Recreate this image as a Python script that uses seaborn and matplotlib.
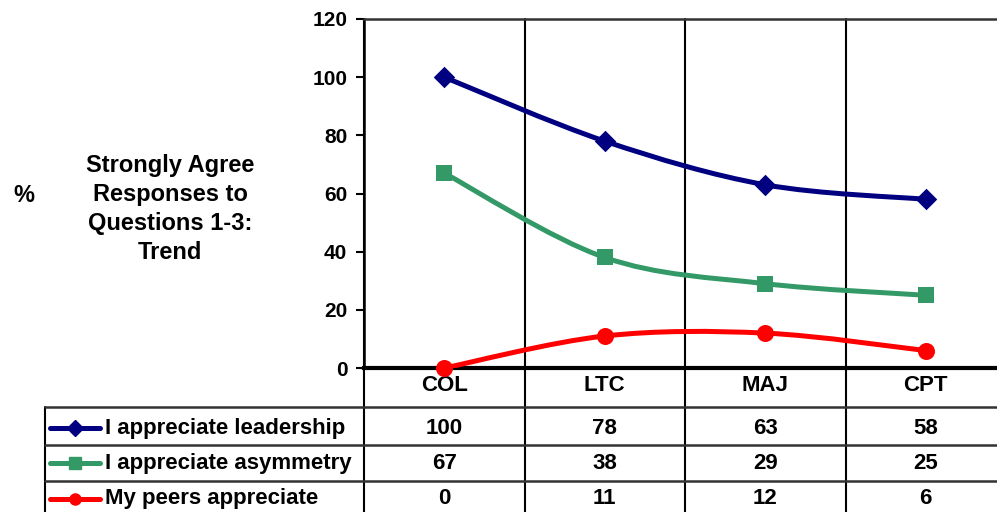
import matplotlib
matplotlib.use("Agg")
import matplotlib.pyplot as plt
import seaborn as sns
import pandas as pd
from matplotlib.path import Path
from matplotlib.patches import PathPatch
from matplotlib.transforms import blended_transform_factory

# data
ranks = ["COL", "LTC", "MAJ", "CPT"]
leadership = [100, 78, 63, 58]
asymmetry = [67, 38, 29, 25]
peers = [0, 11, 12, 6]
series_names = ["I appreciate leadership", "I appreciate asymmetry", "My peers appreciate"]
y_ticks = [0, 20, 40, 60, 80, 100, 120]

sns.set_style("white")
plt.rcParams['font.family'] = ['Liberation Sans', 'DejaVu Sans']
plt.rcParams['font.weight'] = 'bold'
plt.rcParams['text.color'] = 'black'
plt.rcParams['ytick.color'] = 'black'
plt.rcParams['ytick.labelcolor'] = 'black'

colors = ["#000080", "#339966", "#FF0000"]
markers = ["D", "s", "o"]
sizes = [120, 120, 150]
all_series = [leadership, asymmetry, peers]


def smooth_path(xs, ys):
    # Excel style smoothed line (bezier through the points)
    pts = list(zip(xs, ys))
    verts = [pts[0]]
    codes = [Path.MOVETO]
    n = len(pts)
    for i in range(n - 1):
        p0 = pts[i - 1] if i > 0 else pts[i]
        p1 = pts[i]
        p2 = pts[i + 1]
        p3 = pts[i + 2] if i + 2 < n else pts[i + 1]
        c1 = (p1[0] + (p2[0] - p0[0]) / 6, p1[1] + (p2[1] - p0[1]) / 6)
        c2 = (p2[0] - (p3[0] - p1[0]) / 6, p2[1] - (p3[1] - p1[1]) / 6)
        verts += [c1, c2, p2]
        codes += [Path.CURVE4] * 3
    return Path(verts, codes)


fig = plt.figure(figsize=(9.97, 5.12), dpi=100)
ax = fig.add_axes([364 / 997, 1 - 368 / 512, 642 / 997, 349 / 512])

x_pos = list(range(len(ranks)))
for vals, name, c, m, s in zip(all_series, series_names, colors, markers, sizes):
    ax.add_patch(PathPatch(smooth_path(x_pos, vals), fill=False, edgecolor=c,
                           lw=3.6, capstyle='round', joinstyle='round', zorder=3))
    df = pd.DataFrame({"x": x_pos, "y": vals})
    sns.scatterplot(data=df, x="x", y="y", marker=m, s=s, color=c,
                    edgecolor=c, linewidth=0, ax=ax, zorder=4, clip_on=False)

ax.set_xlim(-0.5, 3.5)
ax.set_ylim(0, 120)
ax.set_yticks(y_ticks)
ax.set_yticklabels([str(t) for t in y_ticks], fontsize=15, fontweight='bold', color='black')
ax.set_xticks([])
ax.set_xlabel("")
ax.set_ylabel("")
ax.tick_params(axis='y', direction='out', length=6, width=1.5, color='black', pad=6, left=True)

for side in ["left", "top", "bottom"]:
    ax.spines[side].set_visible(True)
    ax.spines[side].set_color("black")
ax.spines["left"].set_linewidth(1.8)
ax.spines["top"].set_linewidth(1.8)
ax.spines["top"].set_color("#333333")
ax.spines["bottom"].set_linewidth(3)
ax.spines["right"].set_visible(False)

# table below the chart
bt = blended_transform_factory(ax.transData, ax.transAxes)
row_lines = [-0.1117, -0.2206, -0.3238]
row_centres = [-0.172, -0.273, -0.375]
table_bottom = -0.45
table_left = -0.4969

# vertical dividers through plot and table
for b in [-0.5, 0.5, 1.5, 2.5]:
    ax.plot([b, b], [table_bottom, 1], color="black", lw=1.5, transform=bt,
            clip_on=False, zorder=2)
ax.plot([table_left, table_left], [table_bottom, row_lines[0]], color="black",
        lw=1.5, transform=ax.transAxes, clip_on=False)
for yl in row_lines:
    ax.plot([table_left, 1.05], [yl, yl], color="#333333", lw=1.8,
            transform=ax.transAxes, clip_on=False)

for i, r in enumerate(ranks):
    ax.text(i, -0.049, r, transform=bt, ha='center', va='center',
            fontsize=16, fontweight='bold', color='black')

for vals, name, c, m, yc in zip(all_series, series_names, colors, markers, row_centres):
    for i, v in enumerate(vals):
        ax.text(i, yc, str(v), transform=bt, ha='center', va='center',
                fontsize=16, fontweight='bold', color='black')
    ax.plot([-0.4891, -0.4112], [yc, yc], color=c, lw=3.6, transform=ax.transAxes,
            clip_on=False, solid_capstyle='round')
    ax.plot([-0.4502], [yc], marker=m, ms=8, color=c, transform=ax.transAxes,
            clip_on=False)
    ax.text(-0.4034, yc, name, transform=ax.transAxes, ha='left', va='center',
            fontsize=16, fontweight='bold', color='black')

# title and unit label on the left
fig.text(170 / 997, 1 - 209 / 512, "Strongly Agree\nResponses to\nQuestions 1-3:\nTrend",
         ha='center', va='center', fontsize=17, fontweight='bold', linespacing=1.34,
         color='black')
fig.text(24 / 997, 1 - 195 / 512, "%", ha='center', va='center', fontsize=17,
         fontweight='bold', color='black')

fig.savefig("out.png", dpi=100)
